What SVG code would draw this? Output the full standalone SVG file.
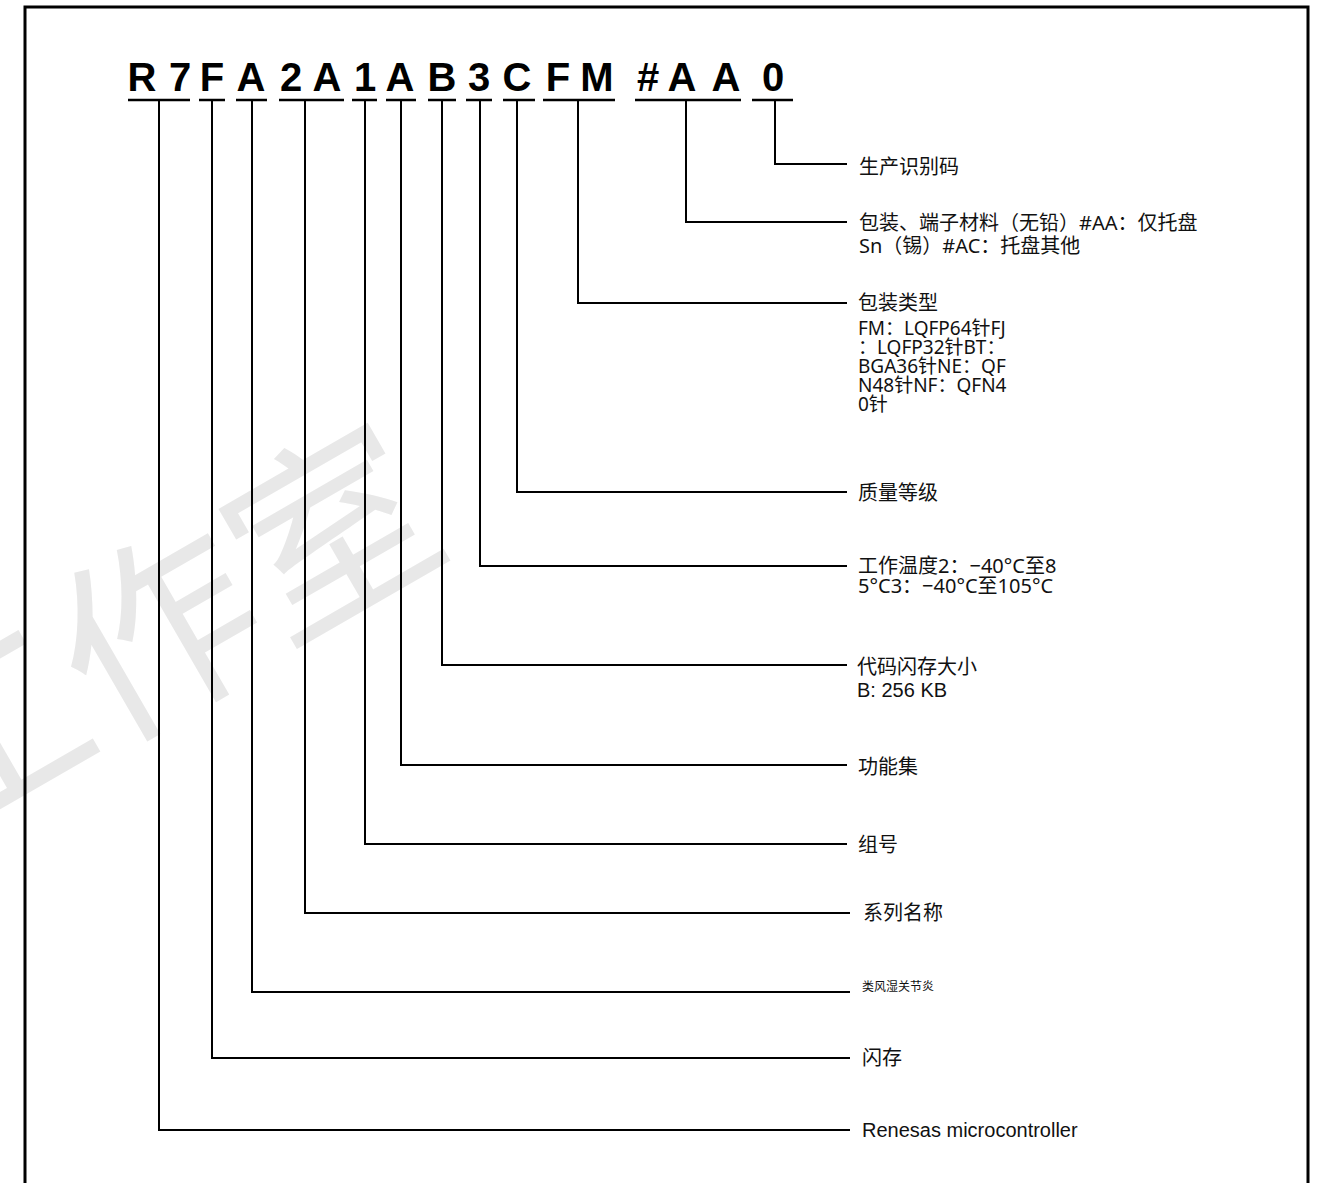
<svg xmlns="http://www.w3.org/2000/svg" width="1318" height="1183" viewBox="0 0 1318 1183">
<style>
.code{font-family:"Liberation Sans",Arial,sans-serif;font-weight:bold;font-size:40px;fill:#000;text-anchor:middle}
.ul{stroke:#000;stroke-width:2.5;fill:none}
.conn{stroke:#000;stroke-width:2;fill:none}
.lbl{font-family:"Noto Sans","Noto Sans CJK SC",sans-serif;font-size:20px;fill:#111}
.sm{font-size:19px}
.lat{font-family:"Liberation Sans",Arial,sans-serif;font-size:20px;fill:#111}
.wm{font-family:"Noto Sans CJK SC",sans-serif;font-size:200px;fill:#e8e8e8;text-anchor:middle}
</style>
<rect width="1318" height="1183" fill="#fff"/>
<text class="wm" x="195" y="696" transform="rotate(-30 195 696)">工作室</text>
<path d="M25,1183 V7 H1308 V1183" fill="none" stroke="#000" stroke-width="3"/>
<g id="code">
<text class="code" x="142" y="91">R</text>
<text class="code" x="180" y="91">7</text>
<text class="code" x="212" y="91">F</text>
<text class="code" x="251" y="91">A</text>
<text class="code" x="291" y="91">2</text>
<text class="code" x="327" y="91">A</text>
<text class="code" x="365" y="91">1</text>
<text class="code" x="400" y="91">A</text>
<text class="code" x="442" y="91">B</text>
<text class="code" x="479" y="91">3</text>
<text class="code" x="517" y="91">C</text>
<text class="code" x="558" y="91">F</text>
<text class="code" x="597" y="91">M</text>
<text class="code" x="648" y="91">#</text>
<text class="code" x="682" y="91">A</text>
<text class="code" x="726" y="91">A</text>
<text class="code" x="773" y="91">0</text>
<path class="ul" d="M128,100H190 M199,100H225 M236,100H267 M279,100H344 M352,100H377 M386,100H416 M428,100H456 M466,100H492 M503,100H535 M543,100H615 M635,100H741 M752,100H793"/>
</g>
<g id="connectors">
<path class="conn" d="M775,100V164H847"/>
<path class="conn" d="M686,100V222H847"/>
<path class="conn" d="M578,100V303H847"/>
<path class="conn" d="M517,100V492H847"/>
<path class="conn" d="M480,100V566H847"/>
<path class="conn" d="M442,100V665H847"/>
<path class="conn" d="M401,100V765H847"/>
<path class="conn" d="M365,100V844H847"/>
<path class="conn" d="M305,100V913H850"/>
<path class="conn" d="M252,100V992H850"/>
<path class="conn" d="M212,100V1058H850"/>
<path class="conn" d="M159,100V1130H850"/>
</g>
<g id="n-production"><text class="lbl" x="859" y="174">生产识别码</text></g>
<g id="n-packing"><text class="lbl" x="859" y="230">包装、端子材料（无铅）#AA：仅托盘</text><text class="lbl" x="859" y="253">Sn（锡）#AC：托盘其他</text></g>
<g id="n-package"><text class="lbl" x="858" y="310">包装类型</text>
<text class="lbl sm" x="858" y="335">FM：LQFP64针FJ</text>
<text class="lbl sm" x="858" y="354">：LQFP32针BT：</text>
<text class="lbl sm" x="858" y="373">BGA36针NE：QF</text>
<text class="lbl sm" x="858" y="392">N48针NF：QFN4</text>
<text class="lbl sm" x="858" y="411">0针</text></g>
<g id="n-quality"><text class="lbl" x="858" y="500">质量等级</text></g>
<g id="n-temp"><text class="lbl" x="858" y="573">工作温度2：−40°C至8</text><text class="lbl" x="858" y="593">5°C3：−40°C至105°C</text></g>
<g id="n-flash"><text class="lbl" x="857" y="674">代码闪存大小</text><text class="lat" x="857" y="697">B: 256 KB</text></g>
<g id="n-feature"><text class="lbl" x="858" y="774">功能集</text></g>
<g id="n-group"><text class="lbl" x="858" y="852">组号</text></g>
<g id="n-series"><text class="lbl" x="863" y="920">系列名称</text></g>
<g id="n-ra"><text class="lbl" x="862" y="991" style="font-size:12px">类风湿关节炎</text></g>
<g id="n-flashmem"><text class="lbl" x="862" y="1065">闪存</text></g>
<g id="n-renesas"><text class="lat" x="862" y="1137">Renesas microcontroller</text></g>
</svg>
